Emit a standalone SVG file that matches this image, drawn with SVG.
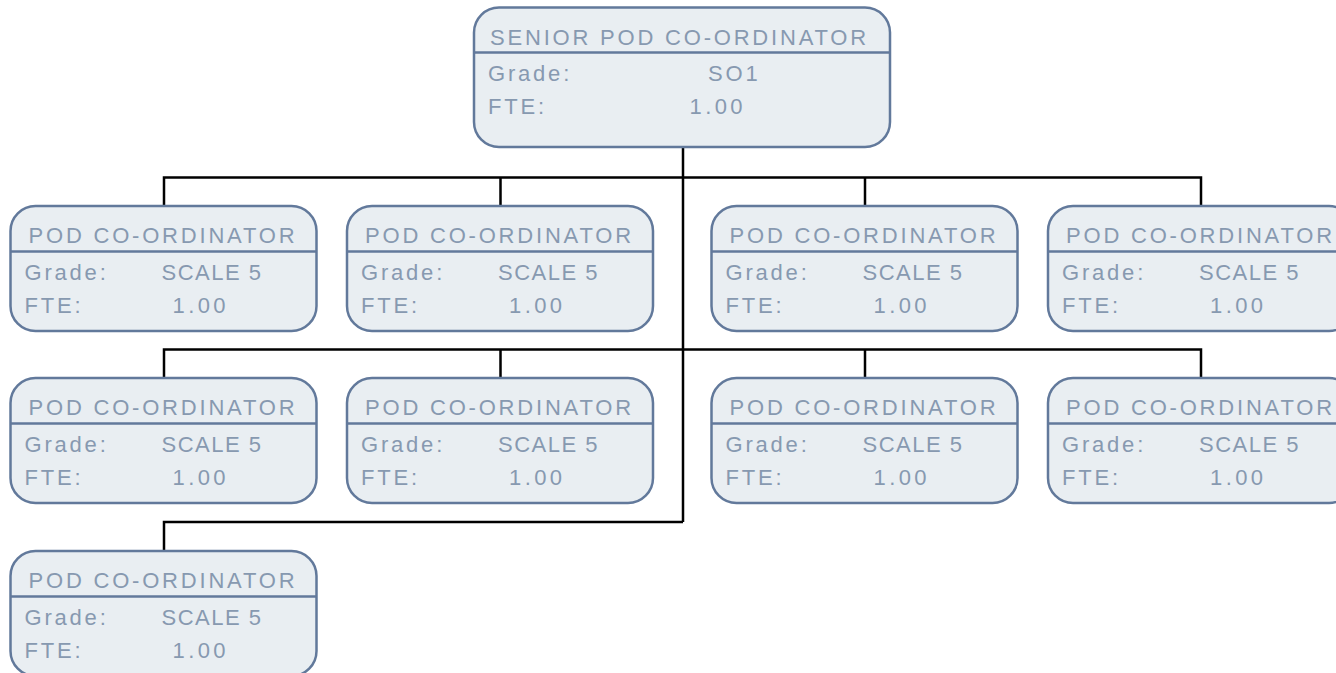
<svg xmlns="http://www.w3.org/2000/svg" width="1336" height="673" viewBox="0 0 1336 673">
<style>
.box{fill:#e9eef2;stroke:#62799b;stroke-width:2.5}
.div{stroke:#62799b;stroke-width:2.5}
.t{font-family:"Liberation Sans",Arial,sans-serif;font-size:22px;letter-spacing:2.8px;fill:#8799b0}
.s{letter-spacing:1.5px}
.n{letter-spacing:3.4px}
.conn{fill:none;stroke:#000;stroke-width:2.5}
</style>
<rect width="1336" height="673" fill="#fff"/>
<g id="connectors" class="conn">
<path d="M683 147V522"/>
<path d="M164 206V177.5H1201V206M500.5 177.5V206M865 177.5V206"/>
<path d="M164 378V349.5H1201V378M500.5 349.5V378M865 349.5V378"/>
<path d="M683 522H164V551"/>
</g>
<g id="senior">
<rect class="box" x="474" y="7.5" width="416" height="139.5" rx="25"/>
<line class="div" x1="474" y1="52.5" x2="890" y2="52.5"/>
<text class="t" x="490" y="44.5">SENIOR POD CO-ORDINATOR</text>
<text class="t" x="488" y="81">Grade:</text>
<text class="t" x="708" y="81">SO1</text>
<text class="t" x="488" y="113.5">FTE:</text>
<text class="t n" x="689.5" y="113.5">1.00</text>
</g>
<g id="pod1" transform="translate(10.5,206)">
<rect class="box" width="306" height="125" rx="25"/>
<line class="div" x1="0" y1="45.5" x2="306" y2="45.5"/>
<text class="t" x="18" y="37">POD CO-ORDINATOR</text>
<text class="t" x="14" y="74">Grade:</text><text class="t s" x="151" y="74">SCALE 5</text>
<text class="t" x="14" y="107">FTE:</text><text class="t n" x="162" y="107">1.00</text>
</g>
<g id="pod2" transform="translate(347,206)">
<rect class="box" width="306" height="125" rx="25"/>
<line class="div" x1="0" y1="45.5" x2="306" y2="45.5"/>
<text class="t" x="18" y="37">POD CO-ORDINATOR</text>
<text class="t" x="14" y="74">Grade:</text><text class="t s" x="151" y="74">SCALE 5</text>
<text class="t" x="14" y="107">FTE:</text><text class="t n" x="162" y="107">1.00</text>
</g>
<g id="pod3" transform="translate(711.5,206)">
<rect class="box" width="306" height="125" rx="25"/>
<line class="div" x1="0" y1="45.5" x2="306" y2="45.5"/>
<text class="t" x="18" y="37">POD CO-ORDINATOR</text>
<text class="t" x="14" y="74">Grade:</text><text class="t s" x="151" y="74">SCALE 5</text>
<text class="t" x="14" y="107">FTE:</text><text class="t n" x="162" y="107">1.00</text>
</g>
<g id="pod4" transform="translate(1048,206)">
<rect class="box" width="306" height="125" rx="25"/>
<line class="div" x1="0" y1="45.5" x2="306" y2="45.5"/>
<text class="t" x="18" y="37">POD CO-ORDINATOR</text>
<text class="t" x="14" y="74">Grade:</text><text class="t s" x="151" y="74">SCALE 5</text>
<text class="t" x="14" y="107">FTE:</text><text class="t n" x="162" y="107">1.00</text>
</g>
<g id="pod5" transform="translate(10.5,378)">
<rect class="box" width="306" height="125" rx="25"/>
<line class="div" x1="0" y1="45.5" x2="306" y2="45.5"/>
<text class="t" x="18" y="37">POD CO-ORDINATOR</text>
<text class="t" x="14" y="74">Grade:</text><text class="t s" x="151" y="74">SCALE 5</text>
<text class="t" x="14" y="107">FTE:</text><text class="t n" x="162" y="107">1.00</text>
</g>
<g id="pod6" transform="translate(347,378)">
<rect class="box" width="306" height="125" rx="25"/>
<line class="div" x1="0" y1="45.5" x2="306" y2="45.5"/>
<text class="t" x="18" y="37">POD CO-ORDINATOR</text>
<text class="t" x="14" y="74">Grade:</text><text class="t s" x="151" y="74">SCALE 5</text>
<text class="t" x="14" y="107">FTE:</text><text class="t n" x="162" y="107">1.00</text>
</g>
<g id="pod7" transform="translate(711.5,378)">
<rect class="box" width="306" height="125" rx="25"/>
<line class="div" x1="0" y1="45.5" x2="306" y2="45.5"/>
<text class="t" x="18" y="37">POD CO-ORDINATOR</text>
<text class="t" x="14" y="74">Grade:</text><text class="t s" x="151" y="74">SCALE 5</text>
<text class="t" x="14" y="107">FTE:</text><text class="t n" x="162" y="107">1.00</text>
</g>
<g id="pod8" transform="translate(1048,378)">
<rect class="box" width="306" height="125" rx="25"/>
<line class="div" x1="0" y1="45.5" x2="306" y2="45.5"/>
<text class="t" x="18" y="37">POD CO-ORDINATOR</text>
<text class="t" x="14" y="74">Grade:</text><text class="t s" x="151" y="74">SCALE 5</text>
<text class="t" x="14" y="107">FTE:</text><text class="t n" x="162" y="107">1.00</text>
</g>
<g id="pod9" transform="translate(10.5,551)">
<rect class="box" width="306" height="125" rx="25"/>
<line class="div" x1="0" y1="45.5" x2="306" y2="45.5"/>
<text class="t" x="18" y="37">POD CO-ORDINATOR</text>
<text class="t" x="14" y="74">Grade:</text><text class="t s" x="151" y="74">SCALE 5</text>
<text class="t" x="14" y="107">FTE:</text><text class="t n" x="162" y="107">1.00</text>
</g>
</svg>
